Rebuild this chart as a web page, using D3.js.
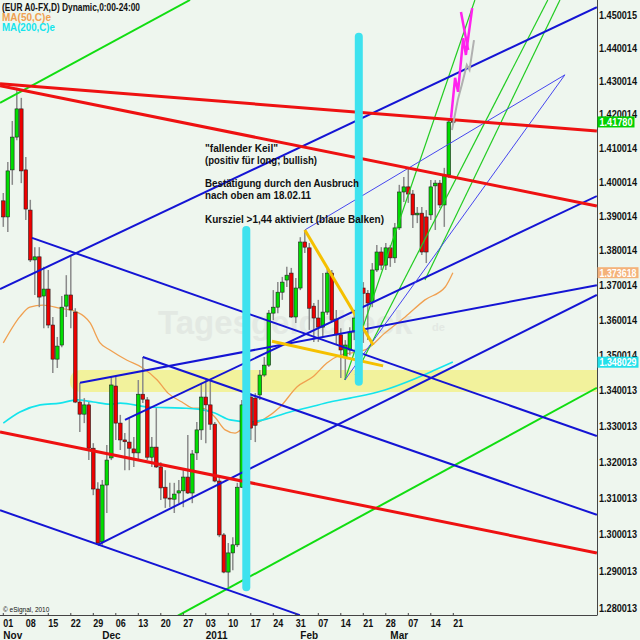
<!DOCTYPE html>
<html><head><meta charset="utf-8">
<script src="https://cdn.jsdelivr.net/npm/d3@7/dist/d3.min.js"></script>
<style>
html,body{margin:0;padding:0;background:#eef6ee;}
svg{display:block;font-family:"Liberation Sans",Arial,sans-serif;}
</style></head><body>
<svg id="c" width="640" height="640"></svg>
<script>
// ---------- DATA ----------
const firstDay = "2010-11-01"; // consecutive weekdays from here
// [open, high, low, close]
const ohlc = [
[1.3945,1.3968,1.3869,1.3898],[1.3898,1.4059,1.3854,1.4033],[1.4036,1.4181,1.3992,1.4133],[1.4133,1.4280,1.4124,1.4217],
[1.4217,1.4250,1.3997,1.4033],[1.4036,1.4074,1.3889,1.3921],[1.3918,1.3948,1.3767,1.3773],[1.3773,1.3810,1.3672,1.3782],
[1.3782,1.3810,1.3637,1.3666],[1.3669,1.3753,1.3577,1.3689],[1.3689,1.3744,1.3577,1.3586],[1.3586,1.3609,1.3450,1.3489],
[1.3489,1.3552,1.3464,1.3526],[1.3529,1.3669,1.3523,1.3637],[1.3640,1.3729,1.3609,1.3672],[1.3672,1.3787,1.3577,1.3629],
[1.3623,1.3634,1.3365,1.3368],[1.3368,1.3422,1.3284,1.3334],[1.3334,1.3379,1.3309,1.3360],[1.3360,1.3368,1.3206,1.3239],
[1.3239,1.3253,1.3109,1.3126],[1.3126,1.3145,1.2973,1.2978],[1.2981,1.3151,1.2973,1.3137],[1.3137,1.3248,1.3060,1.3206],
[1.3212,1.3439,1.3206,1.3416],[1.3413,1.3439,1.3262,1.3309],[1.3309,1.3332,1.3234,1.3262],[1.3262,1.3281,1.3178,1.3257],
[1.3256,1.3323,1.3178,1.3239],[1.3237,1.3270,1.3187,1.3226],[1.3226,1.3430,1.3206,1.3390],[1.3390,1.3495,1.3365,1.3376],
[1.3374,1.3382,1.3206,1.3214],[1.3214,1.3270,1.3187,1.3242],[1.3242,1.3351,1.3184,1.3187],[1.3187,1.3200,1.3096,1.3129],
[1.3131,1.3178,1.3074,1.3101],[1.3101,1.3143,1.3076,1.3099],[1.3098,1.3143,1.3060,1.3112],[1.3115,1.3151,1.3087,1.3121],
[1.3121,1.3178,1.3076,1.3159],[1.3159,1.3276,1.3112,1.3115],[1.3115,1.3234,1.3087,1.3223],[1.3226,1.3312,1.3206,1.3290],
[1.3290,1.3422,1.3262,1.3382],[1.3382,1.3430,1.3253,1.3360],[1.3360,1.3430,1.3290,1.3306],[1.3306,1.3312,1.3145,1.3148],
[1.3148,1.3156,1.2994,1.3000],[1.3000,1.3005,1.2896,1.2899],[1.2899,1.2978,1.2858,1.2951],[1.2951,1.2994,1.2904,1.2973],
[1.2973,1.3143,1.2967,1.3131],[1.3131,1.3374,1.3129,1.3360],[1.3360,1.3453,1.3360,1.3382],[1.3382,1.3393,1.3262,1.3295],
[1.3379,1.3393,1.3256,1.3303],[1.3388,1.3458,1.3374,1.3444],[1.3444,1.3495,1.3439,1.3472],[1.3472,1.3629,1.3467,1.3620],
[1.3620,1.3686,1.3600,1.3637],[1.3637,1.3709,1.3620,1.3680],[1.3680,1.3724,1.3658,1.3709],[1.3715,1.3753,1.3695,1.3729],
[1.3735,1.3750,1.3606,1.3609],[1.3609,1.3721,1.3592,1.3692],[1.3692,1.3839,1.3686,1.3825],[1.3825,1.3860,1.3793,1.3810],
[1.3808,1.3822,1.3572,1.3634],[1.3640,1.3649,1.3538,1.3606],[1.3606,1.3658,1.3538,1.3580],[1.3580,1.3735,1.3552,1.3623],
[1.3623,1.3750,1.3615,1.3735],[1.3735,1.3744,1.3595,1.3600],[1.3603,1.3629,1.3529,1.3558],[1.3558,1.3577,1.3436,1.3515],
[1.3495,1.3543,1.3430,1.3529],[1.3515,1.3580,1.3500,1.3566],[1.3566,1.3620,1.3543,1.3606],[1.3606,1.3706,1.3595,1.3692],
[1.3692,1.3709,1.3535,1.3677],[1.3677,1.3686,1.3543,1.3649],[1.3652,1.3764,1.3637,1.3744],[1.3744,1.3816,1.3738,1.3796],
[1.3796,1.3810,1.3744,1.3758],[1.3758,1.3822,1.3744,1.3808],[1.3808,1.3816,1.3753,1.3779],[1.3779,1.3880,1.3764,1.3866],
[1.3866,1.3992,1.3860,1.3971],[1.3971,1.4015,1.3942,1.3986],[1.3986,1.4042,1.3939,1.3965],[1.3965,1.3977,1.3866,1.3904],
[1.3904,1.3927,1.3880,1.3909],[1.3909,1.3927,1.3787,1.3796],[1.3898,1.3918,1.3764,1.3796],[1.3904,1.4006,1.3889,1.3986],
[1.3989,1.4006,1.3860,1.3997],[1.3997,1.4006,1.3924,1.3933],[1.3933,1.4042,1.3869,1.4021],[1.4021,1.4190,1.4012,1.4178],
[1.4180,1.4186,1.4170,1.4178]
];
// moving averages: [trading-day index, price]
const ma50 = [[0,1.3535],[3.7,1.3610],[5.9,1.3637],[8.8,1.3643],[12.6,1.3634],[16.4,1.3623],[19.3,1.3592],[21.5,1.3535],
[23.7,1.3515],[27.5,1.3486],[31,1.3464],[34.2,1.3430],[36.6,1.3393],[39.7,1.3368],[42.2,1.3351],[44.2,1.3351],
[47,1.3326],[49.3,1.3290],[51.5,1.3281],[53.3,1.3295],[57.7,1.3318],[61.5,1.3354],[65.3,1.3411],[68.8,1.3439],
[71.9,1.3478],[74.8,1.3500],[77,1.3506],[80.4,1.3515],[84.8,1.3563],[89.3,1.3609],[93.7,1.3658],[98.2,1.3695],[99.9,1.3736]];
const ma200 = [[0,1.3309],[3.7,1.3340],[8.2,1.3360],[12.6,1.3365],[16.4,1.3374],[20,1.3368],[23.7,1.3362],[26,1.3365],
[32.2,1.3354],[39.7,1.3351],[43.3,1.3348],[47,1.3337],[50.4,1.3318],[54.8,1.3312],[59.3,1.3323],[63.7,1.3340],
[68.2,1.3354],[72.6,1.3368],[77,1.3379],[84.8,1.3402],[90.8,1.3430],[95.9,1.3458],[99.9,1.3481]];
const lastPrice = 1.41780, lastMa50 = 1.373618, lastMa200 = 1.348029;
// drawn trend lines: pairs of [index, price]
const redLines = [[[-0.73,1.4292],[131.9,1.4151]],[[-0.73,1.4286],[131.9,1.3930]],[[-0.73,1.3284],[131.9,1.2951]]];
const blueLines = [[[-0.73,1.3689],[131.9,1.4524]],[[6.38,1.3837],[131.9,1.3273]],[[-0.73,1.3068],[65.9,1.2783]],
  [[21,1.2973],[131.9,1.3672]],[[17.05,1.3422],[131.9,1.3700]],[[31,1.3495],[131.9,1.3055]],[[27.04,1.3318],[131.9,1.3959]]];
const thinBlueLines = [[[67,1.3860],[124.8,1.4319]],[[75.9,1.3430],[124.8,1.4319]]];
const greenLines = [[[-0.73,1.4235],[41.5,1.4546]],[[38.6,1.2780],[131.9,1.3408]]];
const thinGreenLines = [[[75.9,1.3430],[104.8,1.4546]],[[78.2,1.3444],[121.0,1.4546]],[[93.7,1.3715],[123.7,1.4546]]];
const wedgeLines = [[[67,1.3860],[82.2,1.3529]],[[59.7,1.3540],[84.4,1.3470]]];
const cyanBars = [[54,1.3860,1.2858],[79,1.4434,1.3425]]; // [index, top, bottom]
const supportBand = [14.8, 1.3458, 1.3396];
const projPink = [[99.5,1.4190],[100.4,1.4310],[101.05,1.4268],[102.2,1.4430],[102.8,1.4379],[104.2,1.4521]];
const projPink2 = [[101.7,1.4509],[103.3,1.4394]];
const projGray = [[99.7,1.4154],[101.0,1.4244],[101.9,1.4289],[103.0,1.4349],[103.6,1.4334],[104.6,1.4424]];
const priceTicks = ["1.450015","1.440014","1.430014","1.420014","1.410014","1.400014","1.390014","1.380014","1.370014",
  "1.360014","1.350014","1.340013","1.330013","1.320013","1.310013","1.300013","1.290013","1.280013"];
const weekDates = ["2010-11-01","2010-11-08","2010-11-15","2010-11-22","2010-11-29","2010-12-06","2010-12-13","2010-12-20",
  "2010-12-27","2011-01-03","2011-01-10","2011-01-17","2011-01-24","2011-01-31","2011-02-07","2011-02-14","2011-02-21",
  "2011-02-28","2011-03-07","2011-03-14","2011-03-21"];
const weekLabels = ["01","08","15","22","29","06","13","20","27","03","10","17","24","31","07","14","21","28","07","14","21"];
const monthDates = ["2010-11-01","2010-12-01","2011-01-03","2011-02-01","2011-03-01"];
const monthLabels = ["Nov","Dec","2011","Feb","Mar"];
const noteLines = ["\"fallender Keil\"","(positiv für long; bullish)","Bestätigung durch den Ausbruch","nach oben am 18.02.11","Kursziel >1,44 aktiviert (blaue Balken)"];

// ---------- SCALES ----------
function tradingIndex(s){
  const d0=new Date(firstDay+"T00:00:00Z"), d=new Date(s+"T00:00:00Z"); let n=0;
  for(let t=new Date(d0); t<d; t.setUTCDate(t.getUTCDate()+1)){const w=t.getUTCDay(); if(w!==0&&w!==6) n++;}
  return n;
}
const W=640,H=640, plotR=597, plotB=615;
const x = d3.scaleLinear().domain([0,100]).range([3.3,453.3]);
const y = d3.scaleLog().domain([1.280013,1.450015]).range([608.7,15]);

const svg = d3.select("#c");
svg.append("rect").attr("width",W).attr("height",H).attr("fill","#eef6ee");
svg.append("defs").append("clipPath").attr("id","plot").append("rect").attr("x",0).attr("y",0).attr("width",plotR).attr("height",plotB);
const g = svg.append("g").attr("clip-path","url(#plot)");

// support band
g.append("rect").attr("x",x(supportBand[0])).attr("y",y(supportBand[1])).attr("width",plotR - x(supportBand[0]) + 20)
 .attr("height",y(supportBand[2])-y(supportBand[1])).attr("rx",10).attr("fill","#f2f29c");

// watermark
g.append("text").attr("x",158).attr("y",334).attr("font-size",33).attr("font-weight","bold").attr("fill","#e3e9e3").text("Tagesgeldcheck");
g.append("text").attr("x",432).attr("y",331).attr("font-size",11).attr("font-weight","bold").attr("fill","#e3e9e3").text("de");

const line = d3.line().x(d=>x(d[0])).y(d=>y(d[1]));
const smooth = d3.line().x(d=>x(d[0])).y(d=>y(d[1])).curve(d3.curveMonotoneX);

// moving averages
g.append("path").attr("d",smooth(ma50)).attr("fill","none").attr("stroke","#f0a050").attr("stroke-width",1.3);
g.append("path").attr("d",smooth(ma200)).attr("fill","none").attr("stroke","#14e4ec").attr("stroke-width",1.6);

// candles
const cg = g.append("g");
ohlc.forEach((d,i)=>{
  const [o,h,l,c]=d, cx=x(i);
  cg.append("line").attr("x1",cx).attr("x2",cx).attr("y1",y(h)).attr("y2",y(l)).attr("stroke","#8a8a8a").attr("stroke-width",1.5);
  const top=Math.min(y(o),y(c)), hh=Math.max(1,Math.abs(y(o)-y(c)));
  cg.append("rect").attr("x",cx-1.8).attr("width",3.6).attr("y",top).attr("height",hh)
    .attr("fill", c>=o ? "#00dd00" : "#ee0000").attr("stroke","#202020").attr("stroke-width",0.6);
});

function drawLines(arr,color,w){
  arr.forEach(l=>g.append("path").attr("d",line(l)).attr("fill","none").attr("stroke",color).attr("stroke-width",w));
}
drawLines(greenLines,"#11dd11",2);
drawLines(thinGreenLines,"#22cc22",1.2);
drawLines(blueLines,"#1414d4",2);
drawLines(thinBlueLines,"#4646ee",1);
drawLines(redLines,"#ee1111",3);
drawLines(wedgeLines,"#f5c000",3);

// projections
g.append("path").attr("d",line(projGray)).attr("fill","none").attr("stroke","#b0b0b0").attr("stroke-width",2);
g.append("path").attr("d",line(projPink)).attr("fill","none").attr("stroke","#ff22ee").attr("stroke-width",2.5);
g.append("path").attr("d",line(projPink2)).attr("fill","none").attr("stroke","#ff22ee").attr("stroke-width",2.5);

// cyan bars
cyanBars.forEach(b=>g.append("line").attr("x1",x(b[0])).attr("x2",x(b[0])).attr("y1",y(b[1])).attr("y2",y(b[2]))
  .attr("stroke","#3ee2ee").attr("stroke-width",8).attr("stroke-linecap","round"));

// annotation text
const noteY = [152,164,187,199,223], noteW = [73,112,154,106,179];
noteLines.forEach((t,k)=>{
  svg.append("text").attr("x",205).attr("y",noteY[k]).attr("font-size",10.5).attr("font-weight","bold").attr("fill","#111")
    .attr("textLength",noteW[k]).attr("lengthAdjust","spacingAndGlyphs").text(t);
});

// axes
svg.append("line").attr("x1",plotR+0.5).attr("x2",plotR+0.5).attr("y1",0).attr("y2",plotB).attr("stroke","#444").attr("stroke-width",1);
svg.append("line").attr("x1",0).attr("x2",plotR+0.5).attr("y1",plotB+0.5).attr("y2",plotB+0.5).attr("stroke","#444").attr("stroke-width",1);
priceTicks.forEach(t=>{
  svg.append("text").attr("x",599).attr("y",y(+t)+3.6).attr("font-size",10).attr("font-weight","bold").attr("fill","#111")
    .attr("textLength",38).attr("lengthAdjust","spacingAndGlyphs").text(t);
});
function priceBox(v,label,bg,fg,w){
  const yy=y(v);
  svg.append("rect").attr("x",597.5).attr("y",yy-5.5).attr("width",w+4).attr("height",11).attr("fill",bg);
  svg.append("text").attr("x",599.5).attr("y",yy+4).attr("font-size",10).attr("font-weight","bold").attr("fill",fg)
    .attr("textLength",w).attr("lengthAdjust","spacingAndGlyphs").text(label);
}
priceBox(lastPrice,"1.41780","#00d000","#ffffff",33);
priceBox(lastMa50,"1.373618","#f4b27a","#ffffff",37);
priceBox(lastMa200,"1.348029","#22e0ea","#ffffff",37);

weekDates.forEach((d,k)=>{
  const xi=x(tradingIndex(d));
  svg.append("line").attr("x1",xi).attr("x2",xi).attr("y1",plotB-2).attr("y2",plotB).attr("stroke","#444");
  svg.append("text").attr("x",xi).attr("y",627).attr("font-size",10).attr("font-weight","bold").attr("fill","#111")
    .attr("textLength",10).attr("lengthAdjust","spacingAndGlyphs").text(weekLabels[k]);
});
monthDates.forEach((d,k)=>{
  svg.append("text").attr("x",x(tradingIndex(d))).attr("y",638.5).attr("font-size",10).attr("font-weight","bold").attr("fill","#111").text(monthLabels[k]);
});
svg.append("text").attr("x",3).attr("y",612).attr("font-size",6.5).attr("fill","#111").text("© eSignal, 2010");

// legend
svg.append("text").attr("x",2).attr("y",11).attr("font-size",10).attr("font-weight","bold").attr("fill","#111")
  .attr("textLength",138).attr("lengthAdjust","spacingAndGlyphs").text("(EUR A0-FX,D) Dynamic,0:00-24:00");
svg.append("text").attr("x",2).attr("y",21).attr("font-size",10).attr("font-weight","bold").attr("fill","#f0a050")
  .attr("textLength",49).attr("lengthAdjust","spacingAndGlyphs").text("MA(50,C)e");
svg.append("text").attr("x",2).attr("y",31).attr("font-size",10).attr("font-weight","bold").attr("fill","#14e4ec")
  .attr("textLength",53).attr("lengthAdjust","spacingAndGlyphs").text("MA(200,C)e");
</script></body></html>
